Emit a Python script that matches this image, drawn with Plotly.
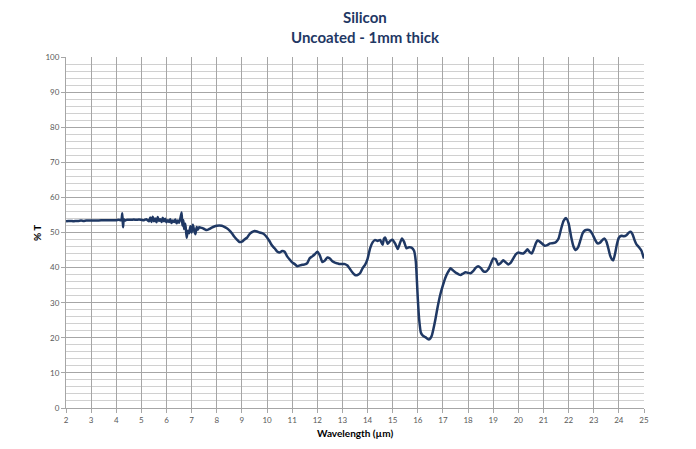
import plotly.graph_objects as go

wavelength = [
    2.0, 2.1, 2.2, 2.3, 2.4, 2.5, 2.6, 2.7, 2.8, 2.9, 3.0, 3.2, 3.4, 3.6, 3.8, 4.0, 4.1, 4.2,
    4.24, 4.27, 4.3, 4.35, 4.4, 4.5, 4.6, 4.7, 4.8, 4.9, 5.0, 5.1, 5.2, 5.3, 5.35, 5.4, 5.45,
    5.5, 5.55, 5.6, 5.65, 5.7, 5.75, 5.8, 5.85, 5.9, 5.95, 6.0, 6.05, 6.1, 6.15, 6.2, 6.25,
    6.3, 6.35, 6.4, 6.45, 6.5, 6.55, 6.6, 6.63, 6.67, 6.7, 6.75, 6.8, 6.85, 6.9, 6.95, 7.0,
    7.05, 7.1, 7.15, 7.2, 7.25, 7.3, 7.4, 7.5, 7.6, 7.7, 7.8, 7.9, 8.0, 8.1, 8.2, 8.3, 8.4,
    8.5, 8.6, 8.7, 8.8, 8.9, 9.0, 9.1, 9.2, 9.3, 9.4, 9.5, 9.6, 9.7, 9.8, 9.9, 10.0, 10.1,
    10.2, 10.3, 10.4, 10.5, 10.6, 10.7, 10.8, 10.9, 11.0, 11.1, 11.2, 11.3, 11.4, 11.5, 11.6,
    11.7, 11.8, 11.9, 12.0, 12.1, 12.2, 12.3, 12.4, 12.5, 12.6, 12.7, 12.8, 12.9, 13.0, 13.1,
    13.2, 13.3, 13.4, 13.5, 13.6, 13.7, 13.8, 13.9, 14.0, 14.1, 14.2, 14.3, 14.4, 14.5, 14.6,
    14.65, 14.7, 14.8, 14.9, 15.0, 15.1, 15.2, 15.3, 15.37, 15.45, 15.55, 15.65, 15.75, 15.85,
    15.92, 16.0, 16.05, 16.12, 16.2, 16.3, 16.4, 16.47, 16.55, 16.62, 16.7, 16.8, 16.9, 17.0,
    17.1, 17.2, 17.3, 17.4, 17.5, 17.6, 17.7, 17.8, 17.9, 18.0, 18.1, 18.2, 18.3, 18.4, 18.5,
    18.6, 18.7, 18.8, 18.9, 19.0, 19.1, 19.2, 19.3, 19.4, 19.5, 19.6, 19.7, 19.8, 19.9, 20.0,
    20.1, 20.2, 20.3, 20.36, 20.45, 20.53, 20.6, 20.7, 20.76, 20.85, 20.95, 21.05, 21.15,
    21.27, 21.4, 21.5, 21.6, 21.7, 21.8, 21.9, 22.0, 22.1, 22.2, 22.29, 22.38, 22.47, 22.56,
    22.65, 22.75, 22.85, 22.95, 23.05, 23.15, 23.25, 23.35, 23.42, 23.5, 23.58, 23.65, 23.72,
    23.78, 23.85, 23.92, 24.0, 24.1, 24.2, 24.3, 24.4, 24.47, 24.55, 24.62, 24.7, 24.8, 24.9,
    24.97, 25.0,
]

transmission = [
    53.2, 53.3, 53.3, 53.2, 53.3, 53.3, 53.4, 53.3, 53.4, 53.4, 53.4, 53.4, 53.5, 53.5, 53.5, 53.5, 53.6, 53.5,
    55.5, 51.5, 53.8, 53.4, 53.6, 53.6, 53.6, 53.7, 53.6, 53.7, 53.6, 53.5, 53.8, 53.2, 54.3, 53.0, 54.5,
    53.2, 54.0, 52.9, 54.4, 53.3, 53.8, 53.0, 54.2, 53.2, 53.9, 52.9, 53.5, 53.0, 53.8, 52.7, 53.4,
    53.0, 53.7, 52.6, 53.4, 52.8, 54.0, 55.7, 52.0, 53.5, 51.0, 52.5, 48.5, 50.5, 49.8, 51.8, 50.0,
    52.2, 50.5, 49.5, 51.6, 50.8, 51.5, 51.3, 51.0, 50.7, 51.0, 51.4, 51.7, 51.9, 52.0, 51.9, 51.6, 51.2,
    50.6, 49.8, 48.8, 48.0, 47.3, 47.4, 48.0, 48.5, 49.5, 50.1, 50.4, 50.3, 50.0, 49.8, 49.4, 48.6, 47.5,
    46.3, 45.5, 44.6, 44.3, 44.7, 44.5, 43.2, 42.3, 41.5, 41.0, 40.4, 40.6, 40.8, 40.9, 41.3,
    42.7, 43.2, 43.8, 44.5, 43.5, 41.6, 42.0, 42.9, 42.6, 41.8, 41.4, 41.2, 41.0, 41.0, 41.0,
    40.6, 39.6, 38.6, 37.9, 37.9, 38.4, 39.8, 40.8, 42.5, 45.5, 47.2, 47.9, 47.6, 47.9, 46.5,
    48.2, 48.6, 46.8, 47.6, 47.9, 46.8, 45.3, 47.2, 48.3, 47.4, 45.5, 45.8, 45.7, 44.8,
    41.7, 31.0, 25.5, 21.5, 20.6, 20.2, 19.6, 19.6, 20.5, 22.5, 25.3, 29.2, 32.5, 35.0,
    37.2, 38.7, 39.8, 39.2, 38.6, 38.2, 37.9, 38.3, 38.7, 38.5, 38.4, 39.0, 39.9, 40.4, 39.9,
    39.0, 38.8, 39.5, 41.0, 42.6, 42.4, 40.8, 41.3, 42.1, 41.5, 40.9, 41.4, 42.6, 43.8, 44.3,
    44.1, 44.0, 44.7, 45.2, 44.4, 44.0, 45.0, 47.0, 47.7, 47.4, 46.8, 46.2, 46.4,
    46.9, 47.0, 47.3, 48.3, 51.0, 53.3, 54.1, 52.6, 48.8, 45.9, 45.0, 45.8, 47.8, 49.8,
    50.6, 50.8, 50.6, 49.5, 48.0, 46.9, 47.1, 47.9, 48.3, 47.5, 45.5, 43.5, 42.4,
    42.1, 44.0, 46.6, 48.5, 49.1, 48.9, 49.2, 50.0, 50.2, 49.4, 47.9, 46.6, 45.8, 44.8,
    43.2, 42.6,
]

x_ticks = list(range(2, 26))
y_ticks = list(range(0, 101, 10))

title_line1 = "Silicon"
title_line2 = "Uncoated - 1mm thick"
x_title = "Wavelength (µm)"
y_title = "% T"

navy = "#1F3864"
font_family = "Lato, 'Open Sans', sans-serif"

fig = go.Figure()
fig.add_trace(go.Scatter(
    x=wavelength, y=transmission, mode="lines",
    line=dict(color=navy, width=2.5, shape="spline", smoothing=0.5),
    hoverinfo="x+y", showlegend=False,
))

L, R, T, B = 66, 52, 57, 41
W, H = 696, 449
pw = W - L - R
ph = H - T - B

fig.update_layout(
    width=W, height=H,
    margin=dict(l=L, r=R, t=T, b=B),
    paper_bgcolor="white", plot_bgcolor="white",
    font=dict(family=font_family, color="#595959", size=8),
    showlegend=False,
)

fig.update_xaxes(
    range=[2, 25], tickvals=x_ticks, ticktext=[str(v) for v in x_ticks],
    showgrid=True, gridcolor="#A6A6A6", gridwidth=1,
    showline=True, linecolor="#A6A6A6", linewidth=1,
    ticks="outside", ticklen=4, tickcolor="#A6A6A6",
    tickfont=dict(size=8, color="#595959"),
    zeroline=False, fixedrange=True,
)
fig.update_yaxes(
    range=[0, 100], tickvals=y_ticks, ticktext=[str(v) for v in y_ticks],
    showgrid=True, gridcolor="#A6A6A6", gridwidth=1,
    minor=dict(dtick=2, showgrid=True, gridcolor="#D0D0D0", gridwidth=1),
    showline=True, linecolor="#A6A6A6", linewidth=1,
    ticks="outside", ticklen=4, tickcolor="#A6A6A6",
    tickfont=dict(size=8, color="#595959"),
    zeroline=False, fixedrange=True,
)

def px_x(p):
    return (p - L) / pw

def px_y(p):
    return (H - B - p) / ph

annotations = [
    dict(text=f"<b>{title_line1}</b>", x=px_x(365), y=px_y(17), xref="paper", yref="paper",
         showarrow=False, font=dict(size=15, color=navy, family=font_family),
         xanchor="center", yanchor="middle"),
    dict(text=f"<b>{title_line2}</b>", x=px_x(365), y=px_y(37), xref="paper", yref="paper",
         showarrow=False, font=dict(size=15, color=navy, family=font_family),
         xanchor="center", yanchor="middle"),
    dict(text=f"<b>{x_title}</b>", x=px_x(355), y=px_y(433), xref="paper", yref="paper",
         showarrow=False, font=dict(size=10, color="#000000", family=font_family),
         xanchor="center", yanchor="middle"),
    dict(text=f"<b>{y_title}</b>", x=px_x(37), y=px_y(233), xref="paper", yref="paper",
         showarrow=False, textangle=-90, font=dict(size=10, color="#000000", family=font_family),
         xanchor="center", yanchor="middle"),
]
fig.update_layout(annotations=annotations)

fig.write_html("out.html")
